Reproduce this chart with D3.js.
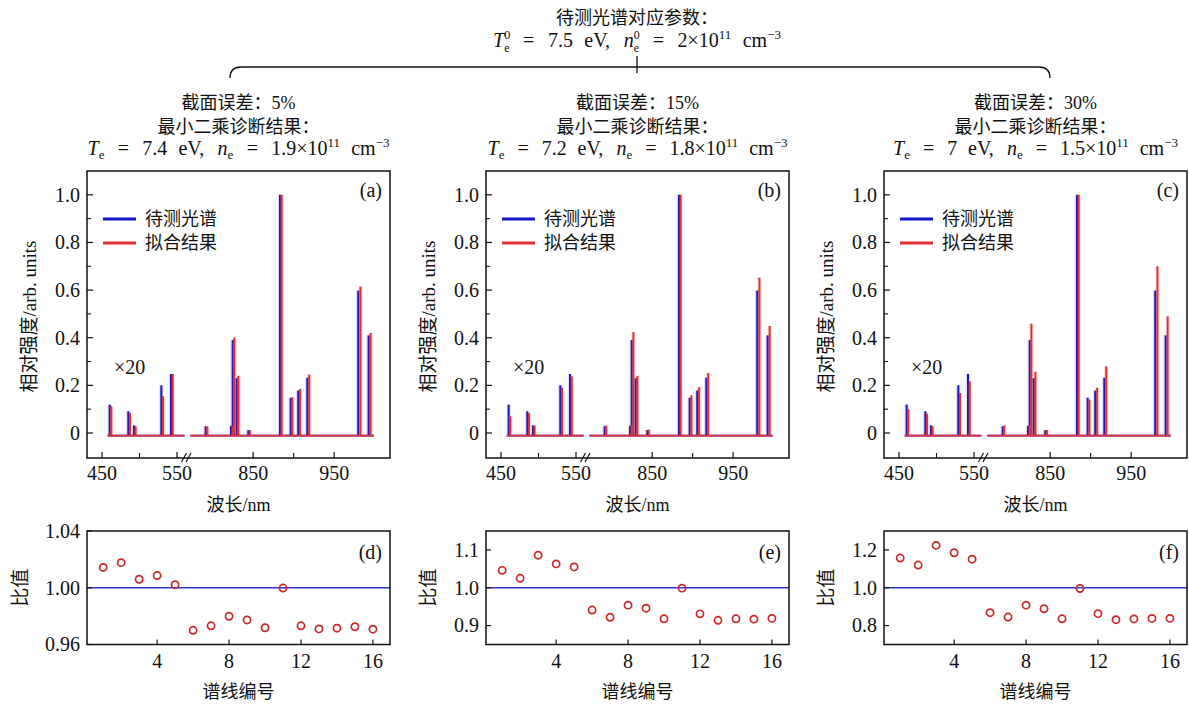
<!DOCTYPE html>
<html><head><meta charset="utf-8">
<script src="https://cdn.jsdelivr.net/npm/d3@7"></script>
<style>
html,body{margin:0;padding:0;background:#fff;}
svg{display:block;}
text{font-family:"Liberation Serif","Noto Sans CJK SC",serif;fill:#111;}
</style>
</head><body>
<svg id="chart" width="1189" height="704"></svg>
<script>
// ---------------- data ----------------
const lineNo = [1,2,3,4,5,6,7,8,9,10,11,12,13,14,15,16];
const waveNm =    [460.2, 485.1, 492.7, 529.1, 542.0, 791.3, 822.6, 824.7, 829.6, 844.0, 883.1, 896.3, 905.7, 916.9, 979.8, 992.6];
const fitWaveNm = [462.4, 487.3, 494.8, 531.4, 544.3, 793.4, 824.6, 826.8, 831.8, 846.0, 885.2, 898.5, 908.0, 919.2, 982.5, 995.1];
const measured =  [0.119, 0.091, 0.032, 0.200, 0.248, 0.028, 0.030, 0.390, 0.230, 0.012, 1.000, 0.148, 0.178, 0.232, 0.598, 0.410];
const fitA =      [0.112, 0.084, 0.028, 0.154, 0.248, 0.028, 0.030, 0.400, 0.240, 0.012, 1.000, 0.150, 0.185, 0.245, 0.615, 0.420];
const fitB =      [0.070, 0.084, 0.031, 0.190, 0.238, 0.031, 0.030, 0.424, 0.240, 0.014, 1.000, 0.158, 0.192, 0.252, 0.652, 0.449];
const fitC =      [0.100, 0.081, 0.028, 0.168, 0.217, 0.032, 0.030, 0.459, 0.257, 0.013, 1.000, 0.140, 0.190, 0.280, 0.700, 0.490];
const baselineSegments = [[457.6, 560.5], [772.5, 999.0]];
const baselineLevel = -0.011;

const ratioD = [1.0143, 1.0177, 1.0060, 1.0086, 1.0022, 0.9700, 0.9732, 0.9799, 0.9773, 0.9718, 0.9998, 0.9732, 0.9710, 0.9715, 0.9725, 0.9708];
const ratioE = [1.046, 1.025, 1.086, 1.063, 1.055, 0.941, 0.922, 0.954, 0.946, 0.918, 0.999, 0.931, 0.914, 0.918, 0.917, 0.919];
const ratioF = [1.157, 1.120, 1.224, 1.185, 1.151, 0.868, 0.845, 0.908, 0.889, 0.836, 0.996, 0.863, 0.831, 0.835, 0.838, 0.838];

const specXTicks = [450, 550, 850, 950];
const specXMinor = [500, 900];
const specYTicks = [0, 0.2, 0.4, 0.6, 0.8, 1.0];
const specYLabels = ["0", "0.2", "0.4", "0.6", "0.8", "1.0"];
const specYMinor = [0.1, 0.3, 0.5, 0.7, 0.9];
const ratioXTicks = [4, 8, 12, 16];
const ratioDomains = [[0.96, 1.04], [0.85, 1.15], [0.7, 1.3]];
const ratioYTicks = [[0.96, 1.00, 1.04], [0.9, 1.0, 1.1], [0.8, 1.0, 1.2]];
const ratioYLabels = [["0.96", "1.00", "1.04"], ["0.9", "1.0", "1.1"], ["0.8", "1.0", "1.2"]];

const panelLetters = ["(a)", "(b)", "(c)"];
const ratioLetters = ["(d)", "(e)", "(f)"];
const errLabels = ["截面误差：5%", "截面误差：15%", "截面误差：30%"];
const resultTe = ["7.4", "7.2", "7"];
const resultNe = ["1.9", "1.8", "1.5"];
const fits = [fitA, fitB, fitC];
const ratios = [ratioD, ratioE, ratioF];

// ---------------- layout ----------------
const svg = d3.select("#chart");
const lefts = [87, 486, 884];
const W = 303;
const topY0 = 171, topY1 = 458;
const botY0 = 531, botY1 = 644.5;
const BLUE = "#1414c8", RED = "#e03232";

const yS = d3.scaleLinear().domain([-0.105, 1.1]).range([topY1, topY0]);

// math text helper: spreads extra space over the marked gaps (weighted) to reach a target width
function mathText(sel, cx, y, parts, size, target) {
  const t = sel.append("text").attr("x", cx - target / 2).attr("y", y)
    .attr("text-anchor", "start").attr("font-size", size);
  let cur = 0;
  const gaps = [];
  parts.forEach(p => {
    const off = p.off || 0;
    const ts = t.append("tspan").text(p.t).attr("dy", off - cur);
    if (p.dx) ts.attr("dx", p.dx);
    if (p.i) ts.attr("font-style", "italic");
    if (p.s) ts.attr("font-size", p.s);
    if (p.g) gaps.push([ts, p.dx || 0, p.g]);
    cur = off;
  });
  const w = t.node().getBBox().width;
  const tw = d3.sum(gaps, d => d[2]);
  const unit = Math.max(0, (target - w) / tw);
  gaps.forEach(([ts, d0, wt]) => ts.attr("dx", d0 + unit * wt));
  return t;
}

// ---------------- header ----------------
svg.append("text").attr("x", 637).attr("y", 24).attr("text-anchor", "middle")
  .attr("font-size", 18).text("待测光谱对应参数：");
mathText(svg, 637, 47, [
  {t: "T", i: 1}, {t: "0", off: -8, s: 12}, {t: "e", off: 5, s: 12, dx: -6},
  {t: "=", g: 1.2}, {t: "7.5", g: 1.2}, {t: "eV,", g: 1}, {t: "n", i: 1, g: 1.2},
  {t: "0", off: -8, s: 12}, {t: "e", off: 5, s: 12, dx: -6},
  {t: "=", g: 1.2}, {t: "2×10", g: 1.2}, {t: "11", off: -8, s: 13}, {t: "cm", g: 1}, {t: "−3", off: -8, s: 13}
], 20, 288);

svg.append("path").attr("fill", "none").attr("stroke", "#111").attr("stroke-width", 1.3)
  .attr("d", "M230,78 Q230,67 241,67 L1039,67 Q1050,67 1050,78");
svg.append("line").attr("x1", 637).attr("x2", 637).attr("y1", 56).attr("y2", 73)
  .attr("stroke", "#111").attr("stroke-width", 1.3);

const subTargets = [302, 300, 285];

// ---------------- panels ----------------
lefts.forEach((L, k) => {
  const cx = L + W / 2;
  svg.append("text").attr("x", cx).attr("y", 109).attr("text-anchor", "middle").attr("font-size", 18).text(errLabels[k]);
  svg.append("text").attr("x", cx).attr("y", 133).attr("text-anchor", "middle").attr("font-size", 18).text("最小二乘诊断结果：");
  mathText(svg, cx, 155, [
    {t: "T", i: 1}, {t: "e", off: 4, s: 13}, {t: "=", g: 1.2}, {t: resultTe[k], g: 1.2}, {t: "eV,", g: 1},
    {t: "n", i: 1, g: 1.2}, {t: "e", off: 4, s: 13}, {t: "=", g: 1.2}, {t: resultNe[k] + "×10", g: 1.2},
    {t: "11", off: -8, s: 13}, {t: "cm", g: 1}, {t: "−3", off: -8, s: 13}
  ], 20, subTargets[k]);

  // ---------- spectrum ----------
  const xS = d3.scaleLinear().domain([430, 560, 772, 1019]).range([L, L + 97.5, L + 103, L + W]);
  const g = svg.append("g");
  const clipId = "clip" + k;
  svg.append("clipPath").attr("id", clipId).append("rect")
    .attr("x", L).attr("y", topY0).attr("width", W).attr("height", topY1 - topY0);
  const pg = g.append("g").attr("clip-path", `url(#${clipId})`);

  const fit = fits[k];
  const drawBase = (color) => baselineSegments.forEach(s => {
    pg.append("line").attr("x1", xS(s[0])).attr("x2", xS(s[1]))
      .attr("y1", yS(baselineLevel)).attr("y2", yS(baselineLevel))
      .attr("stroke", color).attr("stroke-width", 1.6);
  });
  const drawPeaks = (wl, h, color) => {
    pg.selectAll(null).data(d3.zip(wl, h)).enter().append("line")
      .attr("x1", d => xS(d[0])).attr("x2", d => xS(d[0]))
      .attr("y1", yS(baselineLevel)).attr("y2", d => yS(d[1]))
      .attr("stroke", color).attr("stroke-width", 4.5).attr("stroke-opacity", 0.14);
    pg.selectAll(null).data(d3.zip(wl, h)).enter().append("line")
      .attr("x1", d => xS(d[0])).attr("x2", d => xS(d[0]))
      .attr("y1", yS(baselineLevel)).attr("y2", d => yS(d[1]))
      .attr("stroke", color).attr("stroke-width", 2);
  };
  drawBase(BLUE);
  drawPeaks(waveNm, measured, BLUE);
  drawBase(RED);
  drawPeaks(fitWaveNm, fit, RED);

  g.append("rect").attr("x", L).attr("y", topY0).attr("width", W).attr("height", topY1 - topY0)
    .attr("fill", "none").attr("stroke", "#111").attr("stroke-width", 1.5);
  specYTicks.forEach((v, i) => {
    g.append("line").attr("x1", L).attr("x2", L + 6).attr("y1", yS(v)).attr("y2", yS(v)).attr("stroke", "#111").attr("stroke-width", 1.2);
    g.append("text").attr("x", L - 7).attr("y", yS(v)).attr("dy", "0.34em").attr("text-anchor", "end")
      .attr("font-size", 20).text(specYLabels[i]);
  });
  specYMinor.forEach(v => {
    g.append("line").attr("x1", L).attr("x2", L + 4).attr("y1", yS(v)).attr("y2", yS(v)).attr("stroke", "#111").attr("stroke-width", 1.1);
  });
  specXTicks.forEach(v => {
    g.append("line").attr("x1", xS(v)).attr("x2", xS(v)).attr("y1", topY1).attr("y2", topY1 - 6).attr("stroke", "#111").attr("stroke-width", 1.2);
    g.append("text").attr("x", xS(v)).attr("y", topY1 + 22).attr("text-anchor", "middle").attr("font-size", 20).text(v);
  });
  specXMinor.forEach(v => {
    g.append("line").attr("x1", xS(v)).attr("x2", xS(v)).attr("y1", topY1).attr("y2", topY1 - 5).attr("stroke", "#111").attr("stroke-width", 1.1);
  });
  const bx = xS(560);
  [0, 4.5].forEach(d => {
    g.append("line").attr("x1", bx - 3 + d).attr("x2", bx + 2 + d).attr("y1", topY1 + 4).attr("y2", topY1 - 5)
      .attr("stroke", "#111").attr("stroke-width", 1.2);
  });
  g.append("text").attr("x", L + 295).attr("y", 197).attr("text-anchor", "end").attr("font-size", 20).text(panelLetters[k]);
  g.append("text").attr("x", L + 27).attr("y", 374).attr("font-size", 20).text("×20");
  [[BLUE, "待测光谱", 219], [RED, "拟合结果", 243]].forEach(([c, t, y]) => {
    g.append("line").attr("x1", L + 16).attr("x2", L + 49).attr("y1", y).attr("y2", y).attr("stroke", c).attr("stroke-width", 3);
    g.append("text").attr("x", L + 58).attr("y", y).attr("dy", "0.36em").attr("font-size", 18).text(t);
  });
  g.append("text").attr("transform", `translate(${L - 51},${(topY0 + topY1) / 2 + 2}) rotate(-90)`)
    .attr("text-anchor", "middle").attr("font-size", 19).text("相对强度/arb. units");
  g.append("text").attr("x", cx).attr("y", 511).attr("text-anchor", "middle").attr("font-size", 18).text("波长/nm");

  // ---------- ratio panel ----------
  const rx = d3.scaleLinear().domain([0.1, 16.95]).range([L, L + W]);
  const ry = d3.scaleLinear().domain(ratioDomains[k]).range([botY1, botY0]);
  const rg = svg.append("g");
  rg.append("line").attr("x1", L).attr("x2", L + W).attr("y1", ry(1)).attr("y2", ry(1))
    .attr("stroke", "#2a36d0").attr("stroke-width", 1.4);
  rg.selectAll(null).data(d3.zip(lineNo, ratios[k])).enter().append("circle")
    .attr("cx", d => rx(d[0])).attr("cy", d => ry(d[1])).attr("r", 3.6)
    .attr("fill", "none").attr("stroke", "#c82828").attr("stroke-width", 1.7);
  rg.append("rect").attr("x", L).attr("y", botY0).attr("width", W).attr("height", botY1 - botY0)
    .attr("fill", "none").attr("stroke", "#111").attr("stroke-width", 1.5);
  ratioYTicks[k].forEach((v, i) => {
    rg.append("line").attr("x1", L).attr("x2", L + 5).attr("y1", ry(v)).attr("y2", ry(v)).attr("stroke", "#111").attr("stroke-width", 1.2);
    rg.append("text").attr("x", L - 7).attr("y", ry(v)).attr("dy", "0.34em").attr("text-anchor", "end")
      .attr("font-size", 20).text(ratioYLabels[k][i]);
  });
  ratioXTicks.forEach(v => {
    rg.append("line").attr("x1", rx(v)).attr("x2", rx(v)).attr("y1", botY1).attr("y2", botY1 - 5).attr("stroke", "#111").attr("stroke-width", 1.2);
    rg.append("text").attr("x", rx(v)).attr("y", botY1 + 23).attr("text-anchor", "middle").attr("font-size", 20).text(v);
  });
  rg.append("text").attr("x", L + 295).attr("y", 559).attr("text-anchor", "end").attr("font-size", 20).text(ratioLetters[k]);
  const yLabX = k === 0 ? L - 60 : L - 51;
  rg.append("text").attr("transform", `translate(${yLabX},${(botY0 + botY1) / 2}) rotate(-90)`)
    .attr("text-anchor", "middle").attr("font-size", 19).text("比值");
  rg.append("text").attr("x", cx).attr("y", 698).attr("text-anchor", "middle").attr("font-size", 18).text("谱线编号");
});
</script>
</body></html>
